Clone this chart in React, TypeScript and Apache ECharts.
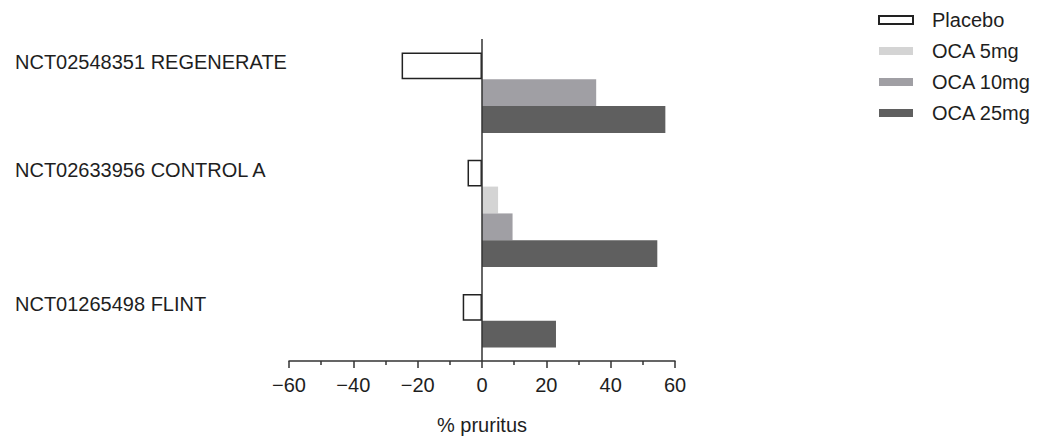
import React, { useEffect, useRef } from "react";
import * as echarts from "echarts";

const trials = ["NCT02548351 REGENERATE", "NCT02633956 CONTROL A", "NCT01265498 FLINT"];
const seriesNames = ["Placebo", "OCA 5mg", "OCA 10mg", "OCA 25mg"];
const placebo: (number | null)[] = [-25, -4.5, -6];
const oca5: (number | null)[] = [null, 5, null];
const oca10: (number | null)[] = [35.5, 9.5, null];
const oca25: (number | null)[] = [57, 54.5, 23];
const xTicks = { min: -60, max: 60, interval: 20 };
const xName = "% pruritus";

const colors = ["#ffffff", "#d4d4d4", "#a09fa4", "#5f5f5f"];
const FONT = "'Liberation Sans', Arial, sans-serif";
const TEXT = "#1e1e1e";
const FS = 20;

export default function App() {
  const ref = useRef<HTMLDivElement>(null);
  useEffect(() => {
    if (!ref.current) return;
    const chart = echarts.init(ref.current, undefined, { renderer: "svg" });
    const all = [placebo, oca5, oca10, oca25];
    const slotKeys: string[] = [];
    const slotLabels: string[] = [];
    const slotData: (number | null)[][] = [[], [], [], []];
    const pushSlot = (key: string, label: string, vals: (number | null)[]) => {
      slotKeys.push(key);
      slotLabels.push(label);
      for (let s = 0; s < 4; s++) slotData[s].push(vals[s]);
    };
    pushSlot("top", "", [null, null, null, null]);
    trials.forEach((t, ti) => {
      if (ti > 0) pushSlot("gap" + ti, "", [null, null, null, null]);
      let first = true;
      for (let s = 0; s < 4; s++) {
        const v = all[s][ti];
        if (v === null || v === undefined) continue;
        const vals: (number | null)[] = [null, null, null, null];
        vals[s] = v;
        pushSlot(t + "|" + s, first ? t : "", vals);
        first = false;
      }
    });
    pushSlot("bottom", "", [null, null, null, null]);

    const series: any[] = seriesNames.map((name, s) => ({
      name,
      type: "bar",
      stack: "all",
      barCategoryGap: 0,
      data: slotData[s].map((v) => (v === null ? "-" : v)),
      itemStyle:
        s === 0
          ? { color: colors[0], borderColor: "#222", borderWidth: 1.5 }
          : { color: colors[s] },
    }));
    series[0].markLine = {
      silent: true,
      symbol: ["none", "none"],
      label: { show: false },
      lineStyle: { color: "#333", width: 1.5, type: "solid" },
      data: [{ xAxis: 0 }],
      z: 10,
    };

    chart.setOption({
      animation: false,
      textStyle: { fontFamily: FONT },
      grid: {
        left: 289,
        right: 362,
        top: 39,
        bottom: 76,
        containLabel: false,
        outerBoundsMode: "none",
      },
      legend: {
        orient: "vertical",
        left: 873,
        top: 5,
        icon: "rect",
        itemWidth: 34,
        itemHeight: 8,
        itemGap: 11,
        data: seriesNames,
        textStyle: {
          fontSize: FS,
          lineHeight: 20,
          color: TEXT,
          fontFamily: FONT,
          padding: [0, 0, 0, 14],
        },
      },
      xAxis: {
        type: "value",
        min: xTicks.min,
        max: xTicks.max,
        interval: xTicks.interval,
        name: xName,
        nameLocation: "middle",
        nameGap: 54,
        nameTextStyle: { fontSize: FS, color: TEXT, fontFamily: FONT },
        splitLine: { show: false },
        axisLine: { show: true, onZero: false, lineStyle: { color: "#333", width: 1.5 } },
        axisTick: { show: true, length: 7, lineStyle: { color: "#333", width: 1.5 } },
        minorTick: { show: true, splitNumber: 2, length: 4, lineStyle: { color: "#333", width: 1.5 } },
        axisLabel: {
          margin: 14,
          fontSize: FS,
          color: TEXT,
          fontFamily: FONT,
          formatter: (v: number) => (v < 0 ? "\u2212" + Math.abs(v) : String(v)),
        },
      },
      yAxis: {
        type: "category",
        inverse: true,
        boundaryGap: false,
        data: slotKeys,
        axisLine: { show: false, onZero: false },
        axisTick: { show: false },
        splitLine: { show: false },
        axisLabel: {
          interval: 0,
          align: "left",
          verticalAlign: "bottom",
          lineHeight: 7,
          margin: 274,
          fontSize: FS,
          color: TEXT,
          fontFamily: FONT,
          formatter: (_v: string, i: number) => slotLabels[i] || "",
        },
      },
      series,
    });
    return () => chart.dispose();
  }, []);
  return (
    <div
      ref={ref}
      style={{ position: "fixed", left: 0, top: 0, width: 1037, height: 437, background: "#fff" }}
    />
  );
}
